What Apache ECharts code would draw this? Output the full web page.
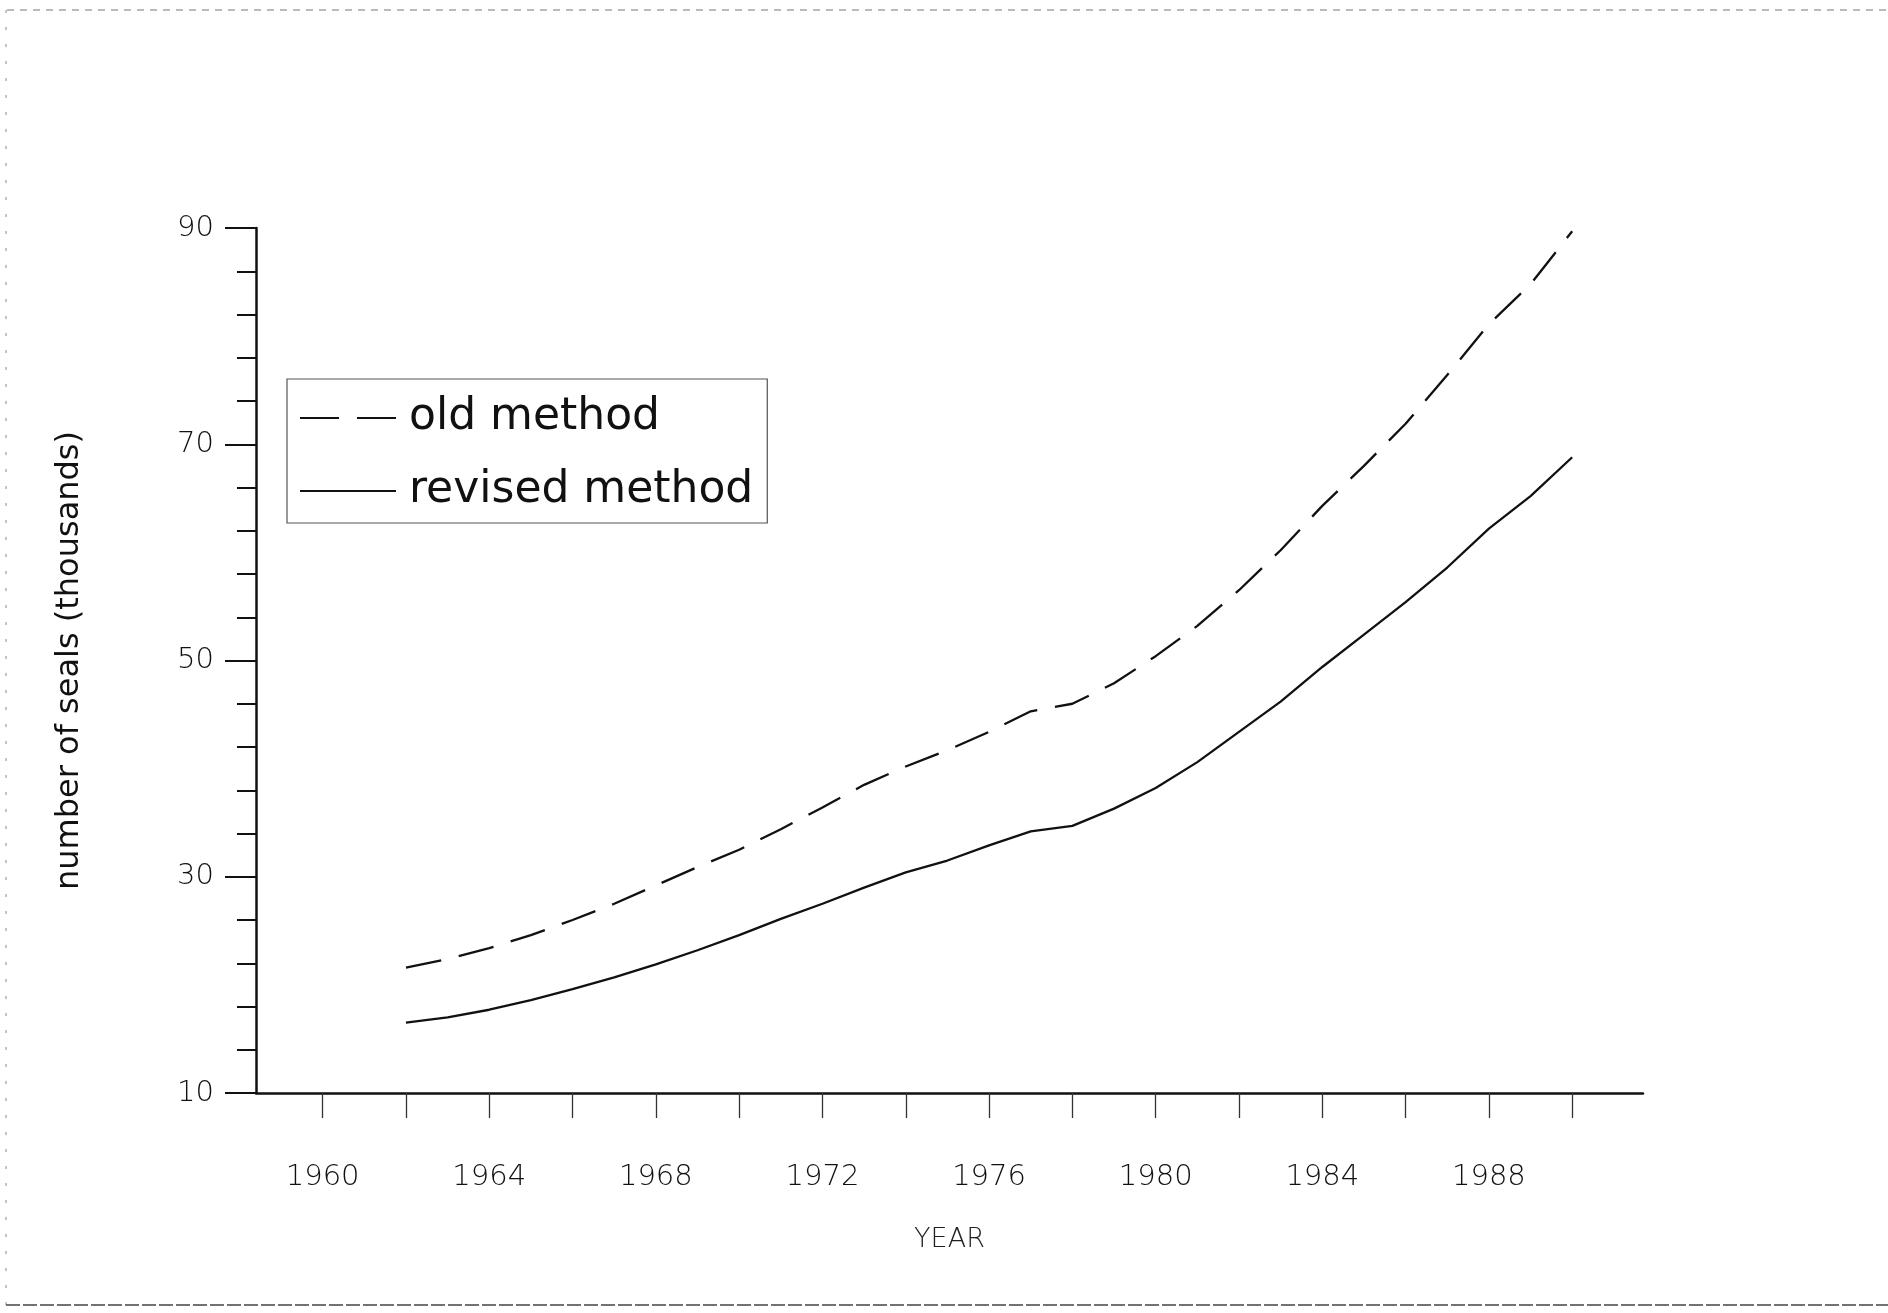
<!DOCTYPE html>
<html>
<head>
<meta charset="utf-8">
<script src="https://cdn.jsdelivr.net/npm/echarts@6/dist/echarts.min.js"></script>
<style>
  html, body { margin: 0; padding: 0; background: #fff; }
  #chart { width: 1888px; height: 1313px; }
</style>
</head>
<body>
<div id="chart"></div>
<script>
// ---- data ----
const years = [1962,1963,1964,1965,1966,1967,1968,1969,1970,1971,1972,1973,1974,1975,1976,1977,1978,1979,1980,1981,1982,1983,1984,1985,1986,1987,1988,1989,1990];
const oldMethod = [21.6,22.4,23.4,24.6,26.0,27.5,29.2,30.9,32.5,34.4,36.4,38.5,40.2,41.7,43.4,45.3,46.0,47.9,50.4,53.2,56.5,60.2,64.3,68.0,71.9,76.4,81.1,84.8,89.7];
const revisedMethod = [16.5,17.0,17.7,18.6,19.6,20.7,21.9,23.2,24.6,26.1,27.5,29.0,30.4,31.5,32.9,34.2,34.7,36.3,38.2,40.6,43.4,46.2,49.4,52.4,55.4,58.6,62.2,65.2,68.8];
const seriesNames = ['old method', 'revised method'];
const xTickValues = [1960,1962,1964,1966,1968,1970,1972,1974,1976,1978,1980,1982,1984,1986,1988,1990];
const xLabelValues = [1960,1964,1968,1972,1976,1980,1984,1988];
const yLabelValues = [10,30,50,70,90];
const yMinorTickValues = [14,18,22,26,34,38,42,46,54,58,62,66,74,78,82,86];
const xTitle = 'YEAR';
const yTitle = 'number of seals (thousands)';

const pairs = (vals) => years.map((y, i) => [y, vals[i]]);

const chart = echarts.init(document.getElementById('chart'), null, { renderer: 'canvas' });

const tickFont = {
  fontFamily: 'DejaVu Sans',
  fontWeight: 200,
  fontSize: 29,
  color: '#111'
};

const option = {
  backgroundColor: '#ffffff',
  animation: false,
  grid: { left: 256, right: 245, top: 228, bottom: 220, containLabel: false },
  legend: {
    orient: 'vertical',
    left: 287,
    top: 379,
    padding: [17, 14, 10, 13],
    itemGap: 29,
    itemWidth: 96,
    itemHeight: 2,
    borderColor: '#555',
    borderWidth: 1.2,
    borderRadius: 0,
    selectedMode: false,
    textStyle: {
      fontFamily: 'DejaVu Sans',
      fontSize: 44,
      color: '#111',
      padding: [0, 0, 0, 8]
    },
    data: [
      { name: seriesNames[0], icon: 'path://M0,0h39v2h-39zM57,0h39v2h-39z' },
      { name: seriesNames[1], icon: 'path://M0,0h96v2h-96z' }
    ]
  },
  xAxis: {
    type: 'value',
    min: 1958.4,
    max: 1991.7,
    name: xTitle,
    nameLocation: 'middle',
    nameGap: 133,
    nameTextStyle: { fontFamily: 'DejaVu Sans', fontWeight: 200, fontSize: 27, color: '#222' },
    axisLine: { show: true, onZero: false, lineStyle: { color: '#111', width: 2.5 } },
    axisTick: {
      show: true, inside: false, length: 25,
      customValues: xTickValues,
      lineStyle: { color: '#333', width: 1.3 }
    },
    axisLabel: {
      show: true, margin: 70,
      customValues: xLabelValues,
      formatter: (v) => String(v),
      ...tickFont
    },
    splitLine: { show: false }
  },
  yAxis: [
    {
      type: 'value',
      min: 10,
      max: 90,
      position: 'left',
      name: yTitle,
      nameLocation: 'middle',
      nameRotate: 90,
      nameGap: 170,
      nameTextStyle: { fontFamily: 'DejaVu Sans', fontSize: 32, color: '#111' },
      axisLine: { show: true, onZero: false, lineStyle: { color: '#111', width: 2.5 } },
      axisTick: {
        show: true, inside: false, length: 31,
        customValues: yLabelValues,
        lineStyle: { color: '#111', width: 2 }
      },
      axisLabel: {
        show: true, margin: 42,
        customValues: yLabelValues,
        ...tickFont
      },
      splitLine: { show: false }
    },
    {
      type: 'value',
      min: 10,
      max: 90,
      position: 'left',
      axisLine: { show: false },
      axisTick: {
        show: true, inside: false, length: 19,
        customValues: yMinorTickValues,
        lineStyle: { color: '#111', width: 2 }
      },
      axisLabel: { show: false },
      splitLine: { show: false }
    }
  ],
  series: [
    {
      name: seriesNames[0],
      type: 'line',
      data: pairs(oldMethod),
      symbol: 'none',
      smooth: false,
      color: '#111',
      lineStyle: { color: '#111', width: 2.3, type: [36, 18] },
      z: 3
    },
    {
      name: seriesNames[1],
      type: 'line',
      data: pairs(revisedMethod),
      symbol: 'none',
      smooth: false,
      color: '#111',
      lineStyle: { color: '#111', width: 2.3, type: 'solid' },
      z: 3
    }
  ],
  graphic: [
    { type: 'line', silent: true, shape: { x1: 7, y1: 10, x2: 1888, y2: 10 }, style: { stroke: '#777', lineWidth: 1.2, lineDash: [7, 6] } },
    { type: 'line', silent: true, shape: { x1: 6, y1: 10, x2: 6, y2: 1305 }, style: { stroke: '#888', lineWidth: 1, lineDash: [3, 14] } },
    { type: 'line', silent: true, shape: { x1: 6, y1: 1305, x2: 1888, y2: 1305 }, style: { stroke: '#444', lineWidth: 1.5, lineDash: [14, 3] } }
  ]
};

chart.setOption(option);
</script>
</body>
</html>
